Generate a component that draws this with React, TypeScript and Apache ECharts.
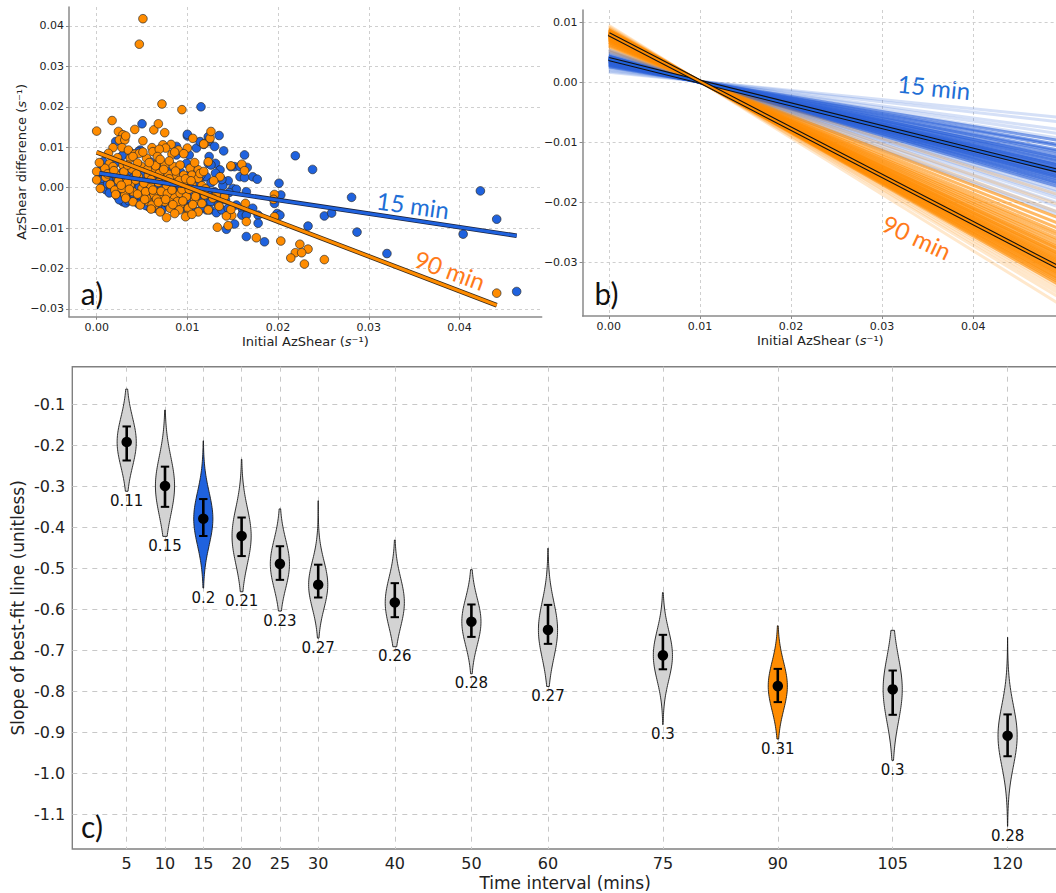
import { useEffect, useRef } from 'react';
import * as echarts from 'echarts';

// ---------- colours ----------
const BLUE = '#1f62de';
const ORANGE = '#ff8c00';
const VIOLIN_GRAY = '#d3d3d3';
const BLUE_TEXT = '#1f6fd6';
const ORANGE_TEXT = '#ff7a1a';
const FONT = 'DejaVu Sans';
const LABEL_FONT = 'Lato';

// ---------- panel a: AzShear difference vs initial AzShear (units of 1e-3 s^-1) ----------
const POINTS_15_MILLI: [number, number][] = [
  [5.0, 15.8], [11.5, 20.0], [10.0, 12.8], [2.1, 11.4], [2.8, 7.9], [4.0, 8.2], [4.8, 9.3], [5.9, 6.4],
  [6.6, 4.8], [8.8, 8.1], [9.9, 6.0], [10.2, 8.1], [11.0, 9.8], [11.8, 10.7], [12.3, 6.0], [11.9, 2.7],
  [0.7, 6.4], [1.5, 2.3], [0.9, 1.5], [0.4, 3.1], [1.8, -1.0], [2.6, -1.0], [2.2, -1.8], [2.7, -2.4],
  [3.3, -1.7], [3.6, -2.8], [4.6, -1.4], [4.8, -2.6], [5.3, -1.8], [4.2, 0.7], [5.5, 1.5], [6.4, 1.9],
  [7.4, 1.9], [8.1, 1.5], [7.5, -1.0], [8.5, -0.2], [9.2, 0.2], [9.9, 1.9], [10.8, 1.1], [11.4, -1.0],
  [11.8, -2.6], [12.3, -3.5], [12.1, -5.5], [10.3, -3.5], [9.2, -2.6], [8.3, -3.1], [7.0, -3.5], [6.1, -3.9],
  [5.1, -3.5], [4.4, -3.1], [4.2, -1.8], [2.9, -3.5], [3.7, -1.8], [2.6, -2.2], [5.9, 2.7], [3.7, 3.6],
  [2.9, 4.0], [2.4, 2.3], [8.8, 3.1], [9.2, 4.0], [9.9, -0.2], [10.7, -1.8], [9.6, -4.3], [8.8, -5.1],
  [7.5, -4.3], [7.2, -5.5], [5.7, -4.7], [6.4, -5.1], [12.3, 12.6], [11.4, 11.4], [8.8, 10.2], [10.0, 13.2],
  [13.5, 12.9], [12.4, 11.4], [13.0, 10.2], [14.0, 9.1], [12.4, 7.7], [16.3, 8.1], [13.1, 6.0], [12.6, 5.6],
  [13.6, 4.4], [15.2, 5.2], [14.8, 5.2], [15.8, 5.2], [16.6, 5.0], [17.2, 2.7], [17.7, 2.1], [15.8, 2.7],
  [16.3, 2.5], [14.5, 1.7], [13.1, 3.6], [12.1, 2.7], [11.5, 3.1], [13.9, 0.5], [15.0, -0.2], [15.4, -0.4],
  [16.5, -1.0], [13.0, -1.0], [12.3, -1.8], [12.6, -3.5], [13.4, -4.3], [12.5, -5.5], [13.2, -6.2], [13.8, -5.5],
  [14.5, -5.1], [15.4, -4.3], [16.1, -5.5], [16.0, -6.8], [16.5, -6.8], [17.2, -5.1], [17.8, -6.8], [15.2, -9.0],
  [14.3, -10.3], [17.8, -8.8], [16.5, -12.1], [18.5, -13.4], [20.1, 1.1], [20.3, -1.8], [19.6, -3.9], [19.9, -6.4],
  [20.2, -6.8], [21.9, 7.9], [23.8, 4.5], [23.3, -9.5], [25.1, -7.0], [25.9, -6.3], [28.1, -2.4], [28.7, -11.0],
  [32.0, -16.3], [40.4, -11.5], [42.3, -0.8], [44.1, -7.8], [46.3, -25.7], [0.4, 4.1], [0.6, 1.9], [0.6, 0.2],
  [1.3, 1.9], [1.8, 0.7], [2.3, -2.2], [3.8, 8.5], [4.6, 8.9], [1.0, -0.5], [3.2, -3.8],
  [1.2, 0.9], [1.6, -0.2], [2.0, 0.4], [2.3, 1.1], [3.0, 0.0], [3.4, -0.8], [3.9, 0.4], [4.1, -2.3],
  [4.7, 0.1], [5.0, -0.9], [5.6, -2.7], [6.0, -1.2], [6.3, 0.3], [6.8, -1.8], [7.2, -0.3], [7.8, -2.4],
  [8.2, 0.6], [8.7, -1.4], [9.0, -3.6], [9.5, -1.1], [10.1, -2.6], [10.5, 0.3], [11.1, -3.2], [11.3, 0.9],
  [1.4, -1.3], [2.5, -3.0], [3.5, -3.2], [4.6, -4.0], [5.4, -4.4], [6.7, -4.6], [8.0, -4.6], [9.8, -5.0],
  [10.9, -5.8], [11.7, -4.8], [3.1, 1.8], [4.0, 2.4], [5.1, 3.4], [6.1, 4.0], [7.0, 2.8], [7.9, 3.9],
  [9.0, 2.6], [10.1, 3.0], [11.0, 4.5], [12.6, 1.2], [13.3, -2.3], [14.2, -3.0], [13.8, 2.0], [14.6, -1.2],
  [1.7, 4.9], [2.2, 6.3],
];

const POINTS_90_MILLI: [number, number][] = [
  [0.0, 14.0], [1.7, 16.6], [4.2, 14.4], [6.3, 14.3], [6.8, 15.8], [7.2, 20.7], [9.4, 19.3], [2.4, 13.9],
  [2.9, 13.1], [2.5, 11.8], [3.1, 11.8], [5.1, 11.6], [7.5, 13.6], [8.2, 10.7], [7.3, 10.6], [7.6, 9.8],
  [6.1, 9.9], [1.8, 9.9], [2.8, 9.9], [3.5, 9.3], [4.2, 8.3], [4.7, 8.5], [6.2, 8.9], [8.3, 8.3],
  [9.0, 9.3], [10.0, 9.8], [10.6, 12.2], [11.9, 10.9], [12.5, 12.2], [2.3, 7.4], [2.9, 5.6], [1.3, 8.5],
  [1.4, 5.9], [1.8, 5.2], [3.7, 7.3], [4.0, 7.7], [5.5, 7.3], [6.7, 6.0], [7.5, 5.6], [8.5, 5.2],
  [9.2, 5.6], [10.3, 4.8], [11.2, 4.4], [12.3, 6.4], [0.0, 4.0], [0.0, 1.9], [0.4, -0.2], [0.9, 4.8],
  [2.2, 3.1], [3.3, 2.3], [4.6, 2.7], [5.7, 3.1], [6.4, 4.0], [7.2, 3.1], [7.9, 3.3], [8.8, 2.7],
  [9.6, 3.1], [10.5, 3.1], [11.2, 2.3], [2.6, 1.1], [3.7, 0.7], [4.0, -1.0], [5.0, -0.2], [5.9, 0.7],
  [6.8, 1.3], [7.7, 0.2], [8.6, 1.1], [9.6, 0.5], [10.5, 0.8], [11.6, 0.5], [3.1, -1.8], [4.0, -3.5],
  [5.1, -1.8], [5.7, -3.5], [6.3, -1.8], [7.2, -2.2], [8.1, -2.6], [8.5, -1.8], [9.2, -1.4], [9.9, -2.2],
  [10.8, -3.1], [11.0, -1.0], [11.9, -1.8], [4.8, -4.3], [6.4, -4.3], [7.5, -3.5], [8.1, -5.1], [9.2, -4.3],
  [10.1, -5.1], [11.2, -6.0], [7.7, -7.4], [9.1, -5.5], [9.9, -6.9], [6.1, -4.3], [5.5, -2.6], [7.0, -6.0],
  [12.6, 13.9], [11.8, 10.8], [13.6, 2.7], [14.8, 5.4], [16.0, 5.8], [16.3, 4.2], [13.2, -1.7], [14.1, -2.2],
  [16.4, -3.9], [14.9, -6.9], [12.3, -5.5], [14.5, -9.4], [13.3, -9.8], [16.5, -8.4], [17.6, -12.4], [19.6, -1.7],
  [19.6, -7.2], [20.3, -13.2], [22.4, -14.0], [23.3, -15.2], [21.9, -16.1], [22.6, -16.1], [21.4, -17.4], [22.9, -18.9],
  [25.1, -17.8], [5.1, 41.8], [4.7, 35.5], [3.2, 12.8], [6.9, 9.5], [9.6, 8.4], [8.6, 8.8], [6.7, 7.7],
  [5.1, 8.8], [12.9, 1.7], [0.3, 6.2], [19.5, -2.9], [14.3, -7.0], [14.8, -5.4], [9.8, -7.2], [44.1, -26.1],
  [1.0, 2.6], [1.5, 0.8], [2.0, -0.6], [2.4, 1.7], [2.8, -0.2], [3.0, 3.9], [3.4, 1.4], [3.6, -0.4],
  [3.9, 4.6], [4.3, 1.9], [4.5, -1.6], [4.9, 5.3], [5.2, 1.1], [5.4, -1.0], [5.6, 4.5], [6.0, 2.0],
  [6.2, -0.6], [6.5, 5.4], [6.6, -2.8], [6.9, 3.5], [7.1, -0.9], [7.4, 4.5], [7.8, -1.5], [8.0, 2.2],
  [8.3, -0.6], [8.7, 4.1], [8.9, -3.4], [9.1, 1.8], [9.4, -0.5], [9.8, 2.2], [10.2, -0.4], [10.4, 1.7],
  [10.9, -2.2], [11.4, 3.5], [1.2, 3.4], [1.9, 4.2], [2.1, -1.7], [2.7, 0.6], [3.2, -2.6], [4.4, 3.4],
  [5.3, -2.9], [6.8, -3.6], [7.6, -2.9], [8.4, -4.2], [9.5, -3.3], [10.6, -4.2], [11.6, -3.9], [12.0, -0.3],
  [5.8, 6.2], [7.0, 7.0], [8.0, 6.6], [3.4, 5.6], [4.5, 6.1], [10.8, 6.2], [11.8, 4.0], [12.8, -2.6],
  [13.5, -4.6], [6.0, -5.3], [8.6, -6.4], [10.5, -6.6],
];

// best-fit lines of panel a: [intercept, slope, x from, x to]
const FIT_15 = [0.00366, -0.336, 0.0003, 0.0463];
const FIT_90 = [0.00876, -0.8585, 0.0, 0.0441];

// ---------- panel b: bootstrap best-fit lines ----------
const BOOT_SLOPE_15 = [
  -0.152, -0.171, -0.203, -0.221, -0.239, -0.248, -0.266, -0.271, -0.289, -0.294, -0.305, -0.317, -0.320, -0.331,
  -0.334, -0.345, -0.349, -0.352, -0.361, -0.363, -0.370, -0.373, -0.379, -0.381, -0.388, -0.390, -0.397, -0.402,
  -0.404, -0.413, -0.417, -0.426, -0.430, -0.441, -0.446, -0.458, -0.464, -0.480, -0.491, -0.510, -0.525, -0.547, -0.559,
];
const BOOT_INTERCEPT_15 = [
  0.0017, 0.0019, 0.0022, 0.0024, 0.0025, 0.0026, 0.0028, 0.0028, 0.0030, 0.0030, 0.0031, 0.0032, 0.0033, 0.0034,
  0.0034, 0.0035, 0.0035, 0.0036, 0.0037, 0.0037, 0.0038, 0.0038, 0.0039, 0.0039, 0.0039, 0.0040, 0.0040, 0.0041,
  0.0041, 0.0042, 0.0042, 0.0043, 0.0043, 0.0044, 0.0045, 0.0046, 0.0046, 0.0048, 0.0049, 0.0051, 0.0052, 0.0054, 0.0055,
];
const BOOT_SLOPE_90 = [
  -0.482, -0.521, -0.553, -0.578, -0.601, -0.622, -0.640, -0.652, -0.668, -0.679, -0.691, -0.702, -0.709, -0.718,
  -0.726, -0.731, -0.739, -0.745, -0.752, -0.757, -0.763, -0.768, -0.774, -0.779, -0.784, -0.789, -0.793, -0.798,
  -0.804, -0.809, -0.815, -0.821, -0.828, -0.834, -0.842, -0.850, -0.859, -0.869, -0.881, -0.895, -0.912, -0.938,
];
const BOOT_INTERCEPT_90 = [
  0.0051, 0.0054, 0.0057, 0.0060, 0.0062, 0.0064, 0.0066, 0.0067, 0.0069, 0.0070, 0.0071, 0.0072, 0.0073, 0.0074,
  0.0074, 0.0075, 0.0076, 0.0076, 0.0077, 0.0077, 0.0078, 0.0078, 0.0079, 0.0079, 0.0080, 0.0080, 0.0081, 0.0081,
  0.0082, 0.0082, 0.0083, 0.0084, 0.0084, 0.0085, 0.0086, 0.0087, 0.0088, 0.0089, 0.0090, 0.0091, 0.0093, 0.0095,
];
// slope range drawn as the dense core of each bundle
const BOOT_CORE_15 = [-0.445, -0.245];
const BOOT_CORE_90 = [-0.865, -0.56];
// central fits: [intercept, slope]
const CENTRAL_15 = [0.00388, -0.377];
const CENTRAL_90 = [0.00805, -0.787];

// ---------- panel c: slope distributions per time interval ----------
const INTERVALS = [5, 10, 15, 20, 25, 30, 40, 50, 60, 75, 90, 105, 120];
const SLOPE_MEAN = [-0.192, -0.299, -0.379, -0.421, -0.489, -0.540, -0.583, -0.630, -0.650, -0.712, -0.787, -0.795, -0.908];
const ERR_TOP = [-0.154, -0.252, -0.331, -0.376, -0.446, -0.491, -0.536, -0.588, -0.589, -0.662, -0.745, -0.749, -0.856];
const ERR_BOTTOM = [-0.237, -0.350, -0.421, -0.470, -0.528, -0.571, -0.619, -0.667, -0.684, -0.746, -0.826, -0.857, -0.958];
const VIOLIN_TOP = [-0.063, -0.114, -0.189, -0.234, -0.355, -0.335, -0.431, -0.503, -0.451, -0.559, -0.640, -0.651, -0.668];
const VIOLIN_BOTTOM = [-0.312, -0.422, -0.548, -0.557, -0.604, -0.670, -0.691, -0.757, -0.788, -0.881, -0.916, -0.968, -1.129];
const SPREAD_LABELS = ['0.11', '0.15', '0.2', '0.21', '0.23', '0.27', '0.26', '0.28', '0.27', '0.3', '0.31', '0.3', '0.28'];

// axis ticks
const AZ_X_TICKS = [0, 0.01, 0.02, 0.03, 0.04];
const A_Y_TICKS = [-0.03, -0.02, -0.01, 0, 0.01, 0.02, 0.03, 0.04];
const B_Y_TICKS = [-0.03, -0.02, -0.01, 0, 0.01];
const SLOPE_TICKS = [-1.1, -1.0, -0.9, -0.8, -0.7, -0.6, -0.5, -0.4, -0.3, -0.2, -0.1];

// axis limits
const A_X = [-0.00305, 0.04906];
const A_Y = [-0.03193, 0.0447];
const B_X = [-0.002876, 0.04931];
const B_Y = [-0.03887, 0.012047];
const C_X = [-2.102, 126.58];
const C_Y = [-1.1841, -0.00834];

const VIOLIN_HALF_WIDTH = 1.25; // minutes

const milli = (pts: [number, number][]) => pts.map(([x, y]) => [x / 1000, y / 1000]);
const fmtAz = (v: number) => (v < -1e-9 ? '\u2212' : '') + Math.abs(v).toFixed(2);

const violinFill = (minute: number) => (minute === 15 ? BLUE : minute === 90 ? ORANGE : VIOLIN_GRAY);

const azTitle = (text: string) => ({
  name: `{n|${text} (}{i|s}{n|\u207B\u00B9)}`,
  nameLocation: 'middle',
  nameMoveOverlap: false,
  nameTextStyle: {
    rich: {
      n: { fontSize: 13, fontFamily: FONT, color: '#222' },
      i: { fontSize: 13, fontFamily: FONT, fontStyle: 'italic', color: '#222' },
    },
  },
});

const gridLineAB = { show: true, lineStyle: { color: '#cfcfcf', width: 1, type: [3, 3] } };
const spineAB = { show: true, onZero: false, lineStyle: { color: '#8a8a8a', width: 1.5 } };

export default function App() {
  const ref = useRef<HTMLDivElement>(null);

  useEffect(() => {
    if (!ref.current) return;
    const chart = echarts.init(ref.current, undefined, { renderer: 'svg' });

    const fitLine = (fit: number[], axis: number, color: string, outline: string, wOuter: number, wInner: number, xFrom?: number, xTo?: number) => {
      const [b, m] = fit;
      const x0 = xFrom !== undefined ? xFrom : fit[2];
      const x1 = xTo !== undefined ? xTo : fit[3];
      const data = [[x0, b + m * x0], [x1, b + m * x1]];
      return [
        { type: 'line', xAxisIndex: axis, yAxisIndex: axis, data, symbol: 'none', silent: true,
          lineStyle: { color: outline, width: wOuter, cap: 'butt' } },
        { type: 'line', xAxisIndex: axis, yAxisIndex: axis, data, symbol: 'none', silent: true,
          lineStyle: { color, width: wInner, cap: 'butt' } },
      ];
    };

    const bootSeries = (slopes: number[], intercepts: number[], core: number[], color: string) => ({
      type: 'custom',
      xAxisIndex: 1,
      yAxisIndex: 1,
      silent: true,
      data: slopes.map((m, i) => [intercepts[i], m]),
      renderItem: (_params: any, api: any) => {
        const b = api.value(0);
        const m = api.value(1);
        const p0 = api.coord([0, b]);
        const p1 = api.coord([B_X[1], b + m * B_X[1]]);
        const inCore = m >= core[0] && m <= core[1];
        return {
          type: 'line',
          shape: { x1: p0[0], y1: p0[1], x2: p1[0], y2: p1[1] },
          style: { stroke: color, lineWidth: 3, opacity: inCore ? 0.6 : 0.2 },
        };
      },
    });

    const option = {
      animation: false,
      backgroundColor: '#ffffff',
      textStyle: { fontFamily: FONT },
      grid: [
        { left: 69, top: 7, width: 472.7, height: 309.7, outerBoundsMode: 'none' },
        { left: 582.6, top: 10, width: 475.4, height: 306, outerBoundsMode: 'none' },
        { left: 72.3, top: 366.7, width: 985.7, height: 482.3, outerBoundsMode: 'none',
          show: true, borderColor: '#808080', borderWidth: 1.4, backgroundColor: 'transparent' },
      ],
      xAxis: [
        {
          gridIndex: 0, type: 'value', min: A_X[0], max: A_X[1],
          axisLine: spineAB,
          axisTick: { show: true, length: 3, customValues: AZ_X_TICKS, lineStyle: { color: '#8a8a8a' } },
          axisLabel: { customValues: AZ_X_TICKS, formatter: fmtAz, fontSize: 11, color: '#222', margin: 5 },
          splitLine: gridLineAB,
          ...azTitle('Initial AzShear'),
          nameGap: 18,
        },
        {
          gridIndex: 1, type: 'value', min: B_X[0], max: B_X[1],
          axisLine: spineAB,
          axisTick: { show: true, length: 3, customValues: AZ_X_TICKS, lineStyle: { color: '#8a8a8a' } },
          axisLabel: { customValues: AZ_X_TICKS, formatter: fmtAz, fontSize: 11, color: '#222', margin: 5 },
          splitLine: gridLineAB,
          ...azTitle('Initial AzShear'),
          nameGap: 18,
        },
        {
          gridIndex: 2, type: 'value', min: C_X[0], max: C_X[1],
          axisLine: { show: false, onZero: false },
          axisTick: { show: false, customValues: INTERVALS },
          axisLabel: { customValues: INTERVALS, fontSize: 16, color: '#222', margin: 6 },
          splitLine: { show: true, lineStyle: { color: '#c8c8c8', width: 1, type: [5, 5] } },
          name: 'Time interval (mins)',
          nameLocation: 'middle',
          nameMoveOverlap: false,
          nameGap: 25,
          nameTextStyle: { fontSize: 17, color: '#222', fontFamily: FONT },
        },
      ],
      yAxis: [
        {
          gridIndex: 0, type: 'value', min: A_Y[0], max: A_Y[1],
          axisLine: spineAB,
          axisTick: { show: true, length: 3, customValues: A_Y_TICKS, lineStyle: { color: '#8a8a8a' } },
          axisLabel: { customValues: A_Y_TICKS, formatter: fmtAz, fontSize: 11, color: '#222', margin: 5 },
          splitLine: gridLineAB,
          ...azTitle('AzShear difference'),
          nameGap: 41,
        },
        {
          gridIndex: 1, type: 'value', min: B_Y[0], max: B_Y[1],
          axisLine: spineAB,
          axisTick: { show: true, length: 3, customValues: B_Y_TICKS, lineStyle: { color: '#8a8a8a' } },
          axisLabel: { customValues: B_Y_TICKS, formatter: fmtAz, fontSize: 11, color: '#222', margin: 5 },
          splitLine: gridLineAB,
        },
        {
          gridIndex: 2, type: 'value', min: C_Y[0], max: C_Y[1],
          axisLine: { show: false, onZero: false },
          axisTick: { show: false, customValues: SLOPE_TICKS },
          axisLabel: { customValues: SLOPE_TICKS, formatter: (v: number) => v.toFixed(1), fontSize: 16, color: '#222', margin: 7 },
          splitLine: { show: true, lineStyle: { color: '#c8c8c8', width: 1, type: [5, 5] } },
          name: 'Slope of best-fit line (unitless)',
          nameLocation: 'middle',
          nameMoveOverlap: false,
          nameGap: 46,
          nameTextStyle: { fontSize: 17, color: '#222', fontFamily: FONT },
        },
      ],
      series: [
        // panel a
        {
          type: 'scatter', xAxisIndex: 0, yAxisIndex: 0, data: milli(POINTS_15_MILLI), symbolSize: 8.6,
          itemStyle: { color: BLUE, borderColor: '#2a2a2a', borderWidth: 0.7, opacity: 1 },
        },
        {
          type: 'scatter', xAxisIndex: 0, yAxisIndex: 0, data: milli(POINTS_90_MILLI), symbolSize: 8.6,
          itemStyle: { color: ORANGE, borderColor: '#2a2a2a', borderWidth: 0.7, opacity: 1 },
        },
        ...fitLine(FIT_15, 0, BLUE, '#1c2540', 4.6, 3.0),
        ...fitLine(FIT_90, 0, ORANGE, '#3a2a1a', 4.6, 3.0),
        // panel b
        bootSeries(BOOT_SLOPE_15, BOOT_INTERCEPT_15, BOOT_CORE_15, '#2d63d8'),
        bootSeries(BOOT_SLOPE_90, BOOT_INTERCEPT_90, BOOT_CORE_90, ORANGE),
        ...fitLine(CENTRAL_15, 1, BLUE, '#111111', 4.2, 2.0, 0, B_X[1]),
        ...fitLine(CENTRAL_90, 1, ORANGE, '#111111', 4.2, 2.0, 0, B_X[1]),
        // panel c: violins
        {
          type: 'custom', xAxisIndex: 2, yAxisIndex: 2, silent: true,
          data: INTERVALS.map((m, i) => [m, SLOPE_MEAN[i]]),
          renderItem: (params: any, api: any) => {
            const i = params.dataIndex;
            const x = INTERVALS[i];
            const hi = VIOLIN_TOP[i];
            const lo = VIOLIN_BOTTOM[i];
            const mu = SLOPE_MEAN[i];
            const spread = ((ERR_TOP[i] - ERR_BOTTOM[i]) / 2) * 1.45;
            const steps = 64;
            const right: number[][] = [];
            const left: number[][] = [];
            for (let k = 0; k <= steps; k++) {
              const y = hi + ((lo - hi) * k) / steps;
              const z = (y - mu) / spread;
              const w = VIOLIN_HALF_WIDTH * Math.exp(-0.5 * z * z);
              right.push(api.coord([x + w, y]));
              left.unshift(api.coord([x - w, y]));
            }
            return {
              type: 'polygon',
              shape: { points: right.concat(left) },
              style: { fill: violinFill(x), stroke: '#1a1a1a', lineWidth: 0.9 },
            };
          },
        },
        // panel c: error bars
        {
          type: 'custom', xAxisIndex: 2, yAxisIndex: 2, silent: true,
          data: INTERVALS.map((m, i) => [m, SLOPE_MEAN[i]]),
          renderItem: (params: any, api: any) => {
            const i = params.dataIndex;
            const top = api.coord([INTERVALS[i], ERR_TOP[i]]);
            const bot = api.coord([INTERVALS[i], ERR_BOTTOM[i]]);
            const cap = 4.2;
            return {
              type: 'group',
              children: [
                { type: 'line', shape: { x1: top[0], y1: top[1], x2: bot[0], y2: bot[1] }, style: { stroke: '#000', lineWidth: 2.6 } },
                { type: 'line', shape: { x1: top[0] - cap, y1: top[1], x2: top[0] + cap, y2: top[1] }, style: { stroke: '#000', lineWidth: 2 } },
                { type: 'line', shape: { x1: bot[0] - cap, y1: bot[1], x2: bot[0] + cap, y2: bot[1] }, style: { stroke: '#000', lineWidth: 2 } },
              ],
            };
          },
        },
        // panel c: means
        {
          type: 'scatter', xAxisIndex: 2, yAxisIndex: 2, symbolSize: 10.5,
          data: INTERVALS.map((m, i) => [m, SLOPE_MEAN[i]]),
          itemStyle: { color: '#000', opacity: 1 },
        },
        // panel c: labels under each violin
        {
          type: 'custom', xAxisIndex: 2, yAxisIndex: 2, silent: true,
          data: INTERVALS.map((m, i) => [m, VIOLIN_BOTTOM[i]]),
          renderItem: (params: any, api: any) => {
            const i = params.dataIndex;
            const p = api.coord([INTERVALS[i], VIOLIN_BOTTOM[i]]);
            return {
              type: 'text',
              x: p[0],
              y: p[1] + 2,
              style: {
                text: SPREAD_LABELS[i], align: 'center', verticalAlign: 'top',
                fontSize: 15, fontFamily: FONT, fill: '#111',
              },
            };
          },
        },
      ],
      graphic: [
        { type: 'text', x: 92, y: 293, style: { text: 'a)', fontSize: 30, fontFamily: LABEL_FONT, fill: '#111', align: 'center', verticalAlign: 'middle' } },
        { type: 'text', x: 606.5, y: 293, style: { text: 'b)', fontSize: 30, fontFamily: LABEL_FONT, fill: '#111', align: 'center', verticalAlign: 'middle' } },
        { type: 'text', x: 92, y: 826, style: { text: 'c)', fontSize: 30, fontFamily: LABEL_FONT, fill: '#111', align: 'center', verticalAlign: 'middle' } },
        { type: 'text', x: 413, y: 205, rotation: (-8 * Math.PI) / 180, style: { text: '15 min', fontSize: 24, fontFamily: LABEL_FONT, fill: BLUE_TEXT, align: 'center', verticalAlign: 'middle' } },
        { type: 'text', x: 450, y: 270, rotation: (-20 * Math.PI) / 180, style: { text: '90 min', fontSize: 24, fontFamily: LABEL_FONT, fill: ORANGE_TEXT, align: 'center', verticalAlign: 'middle' } },
        { type: 'text', x: 934, y: 87, rotation: (-6 * Math.PI) / 180, style: { text: '15 min', fontSize: 24, fontFamily: LABEL_FONT, fill: BLUE_TEXT, align: 'center', verticalAlign: 'middle' } },
        { type: 'text', x: 917, y: 237, rotation: (-25 * Math.PI) / 180, style: { text: '90 min', fontSize: 24, fontFamily: LABEL_FONT, fill: ORANGE_TEXT, align: 'center', verticalAlign: 'middle' } },
      ],
    };

    chart.setOption(option as any);
    return () => chart.dispose();
  }, []);

  return (
    <div
      ref={ref}
      style={{ position: 'fixed', left: 0, top: 0, width: 1056, height: 893, background: '#fff' }}
    />
  );
}
